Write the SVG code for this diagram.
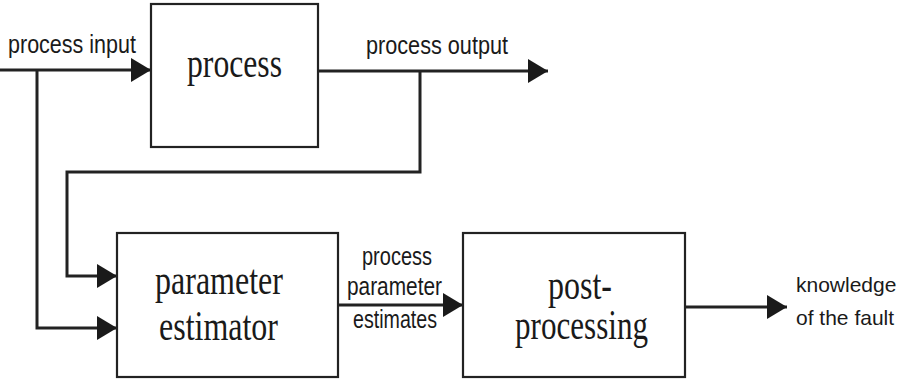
<svg xmlns="http://www.w3.org/2000/svg" width="899" height="380" viewBox="0 0 899 380">
<style>
.box{fill:#fff;stroke:#222;stroke-width:2.2}
.conn{fill:none;stroke:#222;stroke-width:3}
.sans{font-family:"Liberation Sans",Arial,sans-serif;font-size:25px;fill:#1a1a1a}
.sans-r{font-family:"Liberation Sans",Arial,sans-serif;font-size:21px;fill:#1a1a1a}
.serif{font-family:"Liberation Serif","Times New Roman",serif;font-size:42px;fill:#1a1a1a}
</style>
<defs>
<marker id="ah" markerUnits="userSpaceOnUse" markerWidth="20" markerHeight="24" refX="20" refY="12" orient="auto">
<path d="M0,0 L20,12 L0,24 Z" fill="#1a1a1a"/>
</marker>
</defs>
<g id="connectors">
<path class="conn" d="M0,70 H151" marker-end="url(#ah)"/>
<path class="conn" d="M37,70 V328 H117" marker-end="url(#ah)"/>
<path class="conn" d="M318,71 H548" marker-end="url(#ah)"/>
<path class="conn" d="M420,71 V172 H67 V276 H117" marker-end="url(#ah)"/>
<path class="conn" d="M338,305 H463" marker-end="url(#ah)"/>
<path class="conn" d="M685,307 H787" marker-end="url(#ah)"/>
<text class="sans" x="8" y="53" textLength="128" lengthAdjust="spacingAndGlyphs">process input</text>
<text class="sans" x="366" y="54" textLength="142" lengthAdjust="spacingAndGlyphs">process output</text>
<text class="sans" x="362" y="265" textLength="70" lengthAdjust="spacingAndGlyphs">process</text>
<text class="sans" x="347" y="295" textLength="95" lengthAdjust="spacingAndGlyphs">parameter</text>
<text class="sans" x="353" y="328" textLength="84" lengthAdjust="spacingAndGlyphs">estimates</text>
<text class="sans-r" x="796" y="292">knowledge</text>
<text class="sans-r" x="796" y="325">of the fault</text>
</g>
<g id="process">
<rect class="box" x="151" y="4" width="167" height="143"/>
<text class="serif" x="187" y="77" textLength="95" lengthAdjust="spacingAndGlyphs">process</text>
</g>
<g id="parameter-estimator">
<rect class="box" x="117" y="233" width="221" height="144"/>
<text class="serif" x="155" y="294" textLength="128" lengthAdjust="spacingAndGlyphs">parameter</text>
<text class="serif" x="159" y="340" textLength="119" lengthAdjust="spacingAndGlyphs">estimator</text>
</g>
<g id="post-processing">
<rect class="box" x="463" y="233" width="222" height="144"/>
<text class="serif" x="548" y="299" textLength="64" lengthAdjust="spacingAndGlyphs">post-</text>
<text class="serif" x="515" y="339" textLength="133" lengthAdjust="spacingAndGlyphs">processing</text>
</g>
</svg>
